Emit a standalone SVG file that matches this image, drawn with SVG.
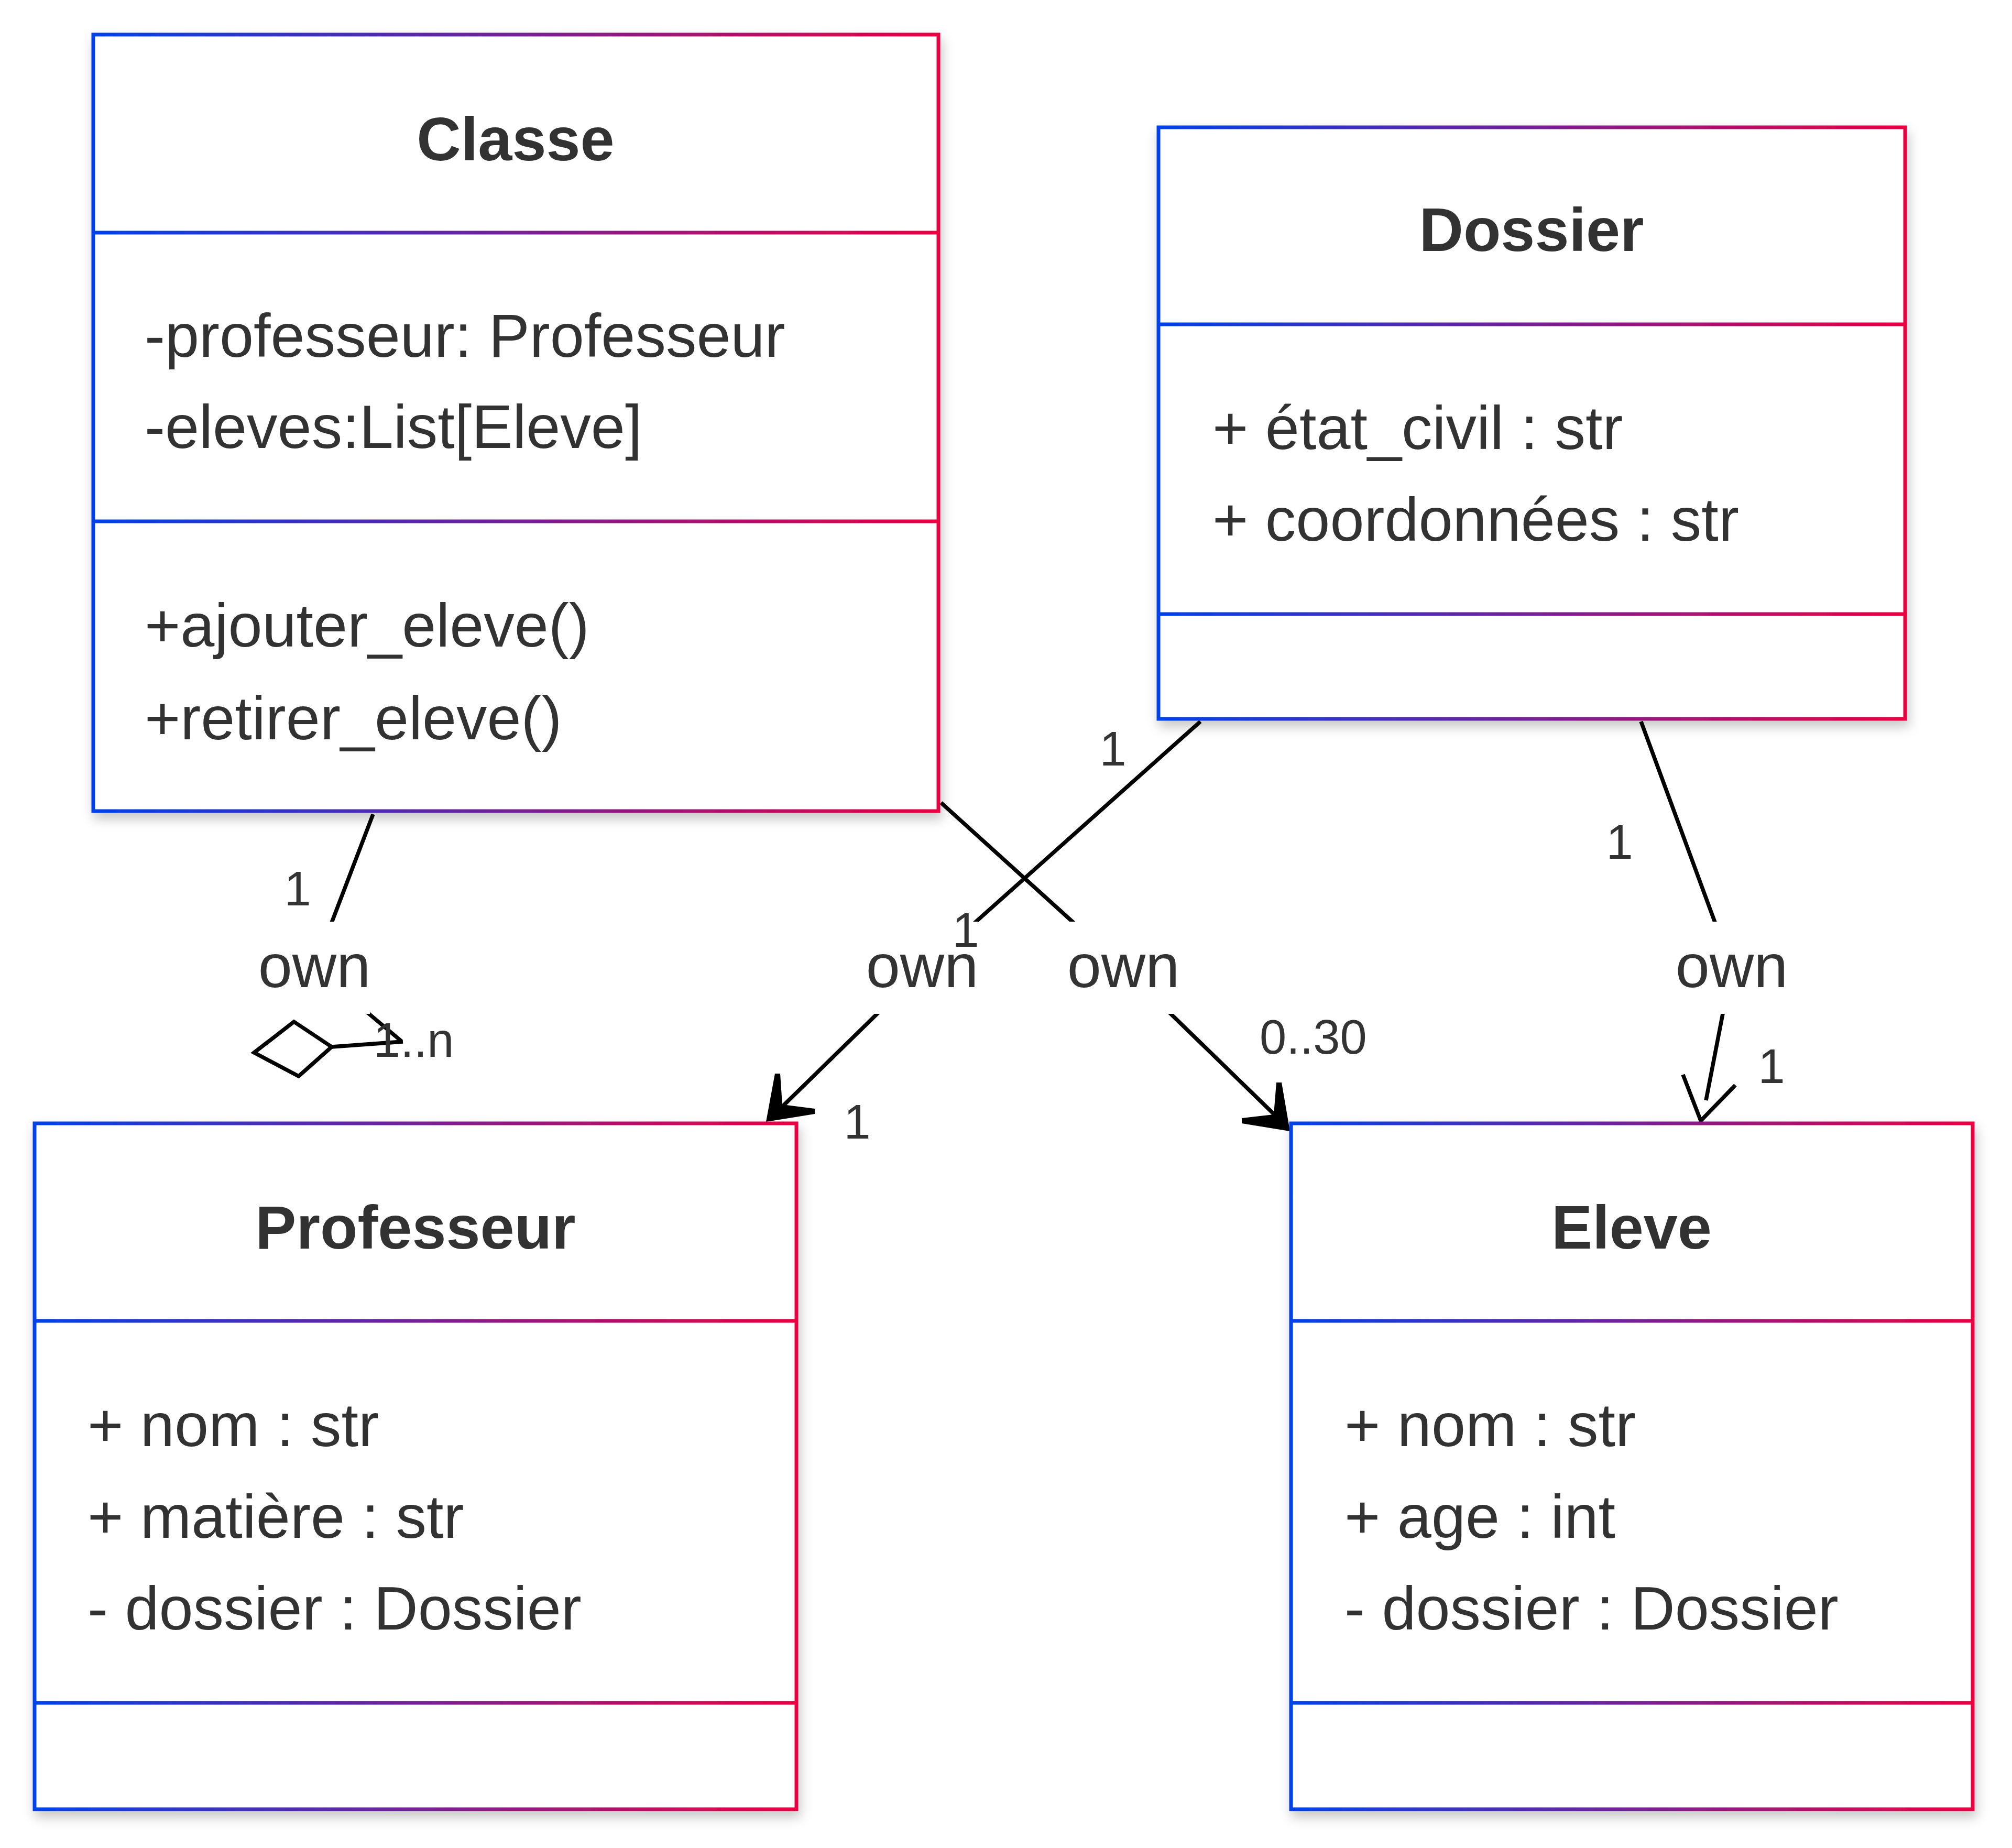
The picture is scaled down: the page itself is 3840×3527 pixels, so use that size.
<svg xmlns="http://www.w3.org/2000/svg" width="3840" height="3527" viewBox="0 0 3840 3527">
<defs>
<linearGradient id="grad" x1="0" y1="0" x2="1" y2="0">
<stop offset="0" stop-color="#0042eb"/>
<stop offset="1" stop-color="#eb0042"/>
</linearGradient>
<filter id="sh" x="-10%" y="-10%" width="125%" height="125%">
<feDropShadow dx="4" dy="12" stdDeviation="11" flood-color="#000" flood-opacity="0.22"/>
</filter>
<style>
.box{fill:#ffffff;stroke:url(#grad);stroke-width:7}
.div{fill:url(#grad)}
.title{font-family:"Liberation Sans",Arial,sans-serif;font-size:117px;font-weight:bold;fill:#333333;text-anchor:middle}
.txt{font-family:"Liberation Sans",Arial,sans-serif;font-size:117px;fill:#333333}
.lbl{font-family:"Liberation Sans",Arial,sans-serif;font-size:117px;fill:#333333;text-anchor:middle}
.card{font-family:"Liberation Sans",Arial,sans-serif;font-size:92px;fill:#333333}
.edge{fill:none;stroke:#000000;stroke-width:7.5;stroke-linejoin:miter}
.head{fill:#000000;stroke:none}
.lblbg{fill:#ffffff}
</style>
</defs>
<rect x="0" y="0" width="3840" height="3527" fill="#ffffff"/>

<g id="connectors">
<polyline class="edge" points="712,1554 600,1847 766,1987"/>
<polyline class="edge" points="769,1988 633,1998"/>
<polygon class="edge" points="633,1998 561,1950 485,2009 570,2054"/>
<polyline class="edge" points="2291,1377 1764,1847 1495,2110"/>
<polygon class="head" points="1462,2141 1479,2049 1489,2049 1493,2108 1555,2116 1555,2126"/>
<polyline class="edge" points="1796,1532 2144,1847 2432,2127"/>
<polygon class="head" points="2462,2159 2446,2066 2436,2066 2431,2127 2370,2134 2370,2144"/>
<polyline class="edge" points="3132,1377 3305,1847 3256,2100"/>
<polyline class="edge" points="3212,2051 3246,2139 3312,2071" stroke-width="10"/>
</g>

<g id="edge-labels">
<rect class="lblbg" x="495" y="1759" width="211" height="176"/>
<rect class="lblbg" x="1655" y="1759" width="211" height="176"/>
<rect class="lblbg" x="2039" y="1759" width="211" height="176"/>
<rect class="lblbg" x="3200" y="1759" width="211" height="176"/>
<text class="lbl" x="600" y="1884">own</text>
<text class="lbl" x="1760" y="1884">own</text>
<text class="lbl" x="2144" y="1884">own</text>
<text class="lbl" x="3305" y="1884">own</text>
<text class="card" x="568" y="1728" text-anchor="middle">1</text>
<text class="card" x="713" y="2017">1..n</text>
<text class="card" x="2124" y="1461" text-anchor="middle">1</text>
<text class="card" x="1843" y="1807" text-anchor="middle">1</text>
<text class="card" x="1636" y="2173" text-anchor="middle">1</text>
<text class="card" x="2404" y="2011">0..30</text>
<text class="card" x="3091" y="1639" text-anchor="middle">1</text>
<text class="card" x="3381" y="2067" text-anchor="middle">1</text>
</g>

<g id="node-classe" filter="url(#sh)">
<rect class="box" x="178" y="66" width="1613" height="1482"/>
<rect class="div" x="178" y="440.5" width="1613" height="7"/>
<rect class="div" x="178" y="991.5" width="1613" height="7"/>
<text class="title" x="984" y="306">Classe</text>
<text class="txt" x="276" y="681">-professeur: Professeur</text>
<text class="txt" x="276" y="855">-eleves:List[Eleve]</text>
<text class="txt" x="276" y="1234">+ajouter_eleve()</text>
<text class="txt" x="276" y="1411">+retirer_eleve()</text>
</g>

<g id="node-dossier" filter="url(#sh)">
<rect class="box" x="2211" y="243" width="1425" height="1129"/>
<rect class="div" x="2211" y="615.5" width="1425" height="7"/>
<rect class="div" x="2211" y="1168.5" width="1425" height="7"/>
<text class="title" x="2923" y="479">Dossier</text>
<text class="txt" x="2314" y="857">+ état_civil : str</text>
<text class="txt" x="2314" y="1032">+ coordonnées : str</text>
</g>

<g id="node-professeur" filter="url(#sh)">
<rect class="box" x="66" y="2144" width="1454" height="1309"/>
<rect class="div" x="66" y="2517.5" width="1454" height="7"/>
<rect class="div" x="66" y="3246.5" width="1454" height="7"/>
<text class="title" x="793" y="2383">Professeur</text>
<text class="txt" x="167" y="2760">+ nom : str</text>
<text class="txt" x="167" y="2935">+ matière : str</text>
<text class="txt" x="167" y="3110">- dossier : Dossier</text>
</g>

<g id="node-eleve" filter="url(#sh)">
<rect class="box" x="2464" y="2144" width="1301" height="1309"/>
<rect class="div" x="2464" y="2517.5" width="1301" height="7"/>
<rect class="div" x="2464" y="3246.5" width="1301" height="7"/>
<text class="title" x="3114" y="2383">Eleve</text>
<text class="txt" x="2566" y="2760">+ nom : str</text>
<text class="txt" x="2566" y="2935">+ age : int</text>
<text class="txt" x="2566" y="3110">- dossier : Dossier</text>
</g>
</svg>
